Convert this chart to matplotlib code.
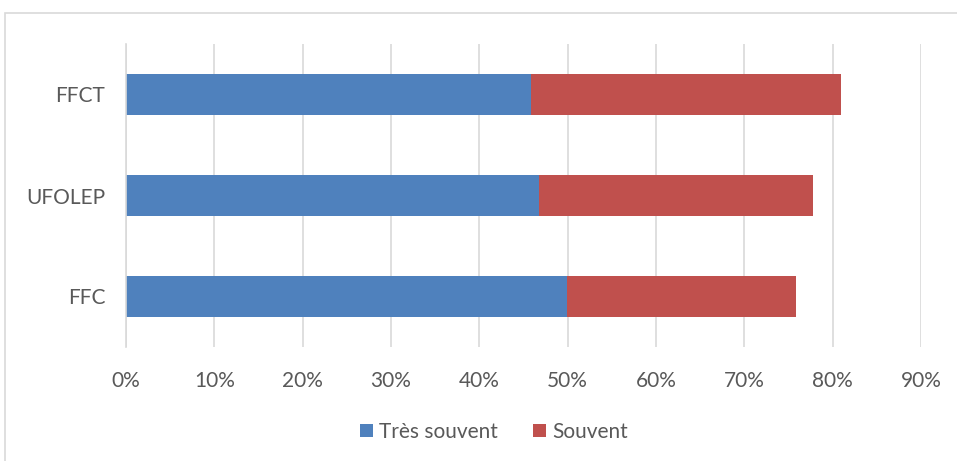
import matplotlib.pyplot as plt
from matplotlib.patches import Rectangle

categories = ['FFC', 'UFOLEP', 'FFCT']
tres_souvent = [49.9, 46.8, 45.9]
souvent = [26.0, 31.0, 35.0]

text_col = '#595959'
grid_col = '#d9d9d9'

plt.rcParams['font.family'] = ['Lato', 'DejaVu Sans']

fig = plt.figure(figsize=(9.57, 4.61), dpi=100)
# chart frame
fig.patches.append(Rectangle((5 / 957, -0.01), 1.0, 1 - 13 / 461 + 0.01,
                             transform=fig.transFigure, fill=False,
                             edgecolor=grid_col, linewidth=1.2))

ax = fig.add_axes([126 / 957, 1 - 347 / 461, 795 / 957, 303 / 461])
y = range(len(categories))
ax.barh(y, tres_souvent, height=0.4, color='#4F81BD', label='Très souvent')
ax.barh(y, souvent, left=tres_souvent, height=0.4, color='#C0504D', label='Souvent')

ax.set_xlim(0, 90)
ax.set_ylim(-0.5, 2.5)
ax.set_xticks(range(0, 91, 10))
ax.set_xticklabels([f'{v}%' for v in range(0, 91, 10)])
ax.set_yticks(list(y))
ax.set_yticklabels(categories)
ax.tick_params(length=0, labelsize=15, colors=text_col)
ax.tick_params(axis='x', pad=17)
ax.tick_params(axis='y', pad=15)
ax.xaxis.grid(True, color=grid_col, linewidth=1.2)
ax.set_axisbelow(True)
for s in ['top', 'right', 'bottom']:
    ax.spines[s].set_visible(False)
ax.spines['left'].set_color(grid_col)
ax.spines['left'].set_linewidth(1.2)

fig.legend(loc='center', bbox_to_anchor=(0.516, 1 - 432 / 461), ncol=2,
           frameon=False, fontsize=15, labelcolor=text_col,
           handlelength=0.6, handleheight=0.6, handletextpad=0.3,
           columnspacing=1.7)

fig.savefig('out.png', dpi=100)
